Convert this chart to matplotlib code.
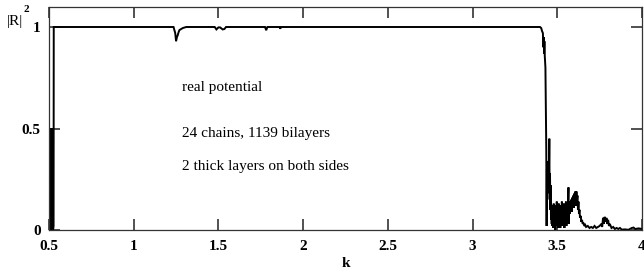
import matplotlib
matplotlib.use("Agg")
import matplotlib.pyplot as plt
import numpy as np

# ---- data ----
k_left = [0.500, 0.504, 0.508, 0.512, 0.516, 0.520, 0.524, 0.527, 0.528, 0.535]
r_left = [0.0, 0.5, 0.0, 0.5, 0.0, 0.5, 0.0, 0.02, 1.0, 1.0]

k_flat = [1.235, 1.245, 1.250, 1.255, 1.260, 1.265, 1.270, 1.280, 1.290, 1.310,
          1.478, 1.488, 1.500, 1.510, 1.525, 1.535, 1.545,
          1.775, 1.782, 1.789, 1.860, 1.865, 1.870,
          3.398, 3.405, 3.410, 3.415, 3.418, 3.420, 3.422, 3.424, 3.426, 3.430, 3.435]
r_flat = [1.0, 0.97, 0.93, 0.95, 0.96, 0.975, 0.985, 0.99, 0.995, 1.0,
          1.0, 0.988, 0.998, 0.998, 0.988, 0.99, 1.0,
          1.0, 0.984, 1.0, 1.0, 0.992, 1.0,
          1.0, 0.995, 0.98, 0.97, 0.90, 0.95, 0.87, 0.93, 0.86, 0.80, 0.40]

k_noise = [3.437, 3.439, 3.441, 3.443, 3.445, 3.447, 3.449, 3.451, 3.453, 3.455,
           3.457, 3.459, 3.461, 3.463, 3.465, 3.467, 3.469, 3.471,
           3.473, 3.476, 3.479, 3.482, 3.485, 3.488, 3.491, 3.494, 3.497, 3.500,
           3.503, 3.506, 3.509, 3.512, 3.515, 3.518, 3.521, 3.524, 3.527, 3.530,
           3.533, 3.536, 3.539, 3.542, 3.545, 3.548, 3.551, 3.554, 3.557, 3.560,
           3.563, 3.566, 3.568,
           3.571, 3.574, 3.577, 3.580, 3.583, 3.586, 3.589, 3.592, 3.595, 3.598,
           3.601, 3.604, 3.607, 3.610, 3.613, 3.616, 3.619, 3.622, 3.625, 3.628,
           3.631, 3.634, 3.638, 3.642, 3.646, 3.650, 3.655, 3.660, 3.665, 3.670,
           3.680, 3.690, 3.700, 3.710, 3.720, 3.730, 3.740, 3.750, 3.760, 3.765,
           3.770, 3.775, 3.780, 3.785, 3.790, 3.795, 3.800, 3.805, 3.810, 3.820,
           3.830, 3.840, 3.850, 3.860, 3.870, 3.880, 3.900, 3.920, 3.940, 3.950,
           3.960, 3.980, 4.000]
r_noise = [0.02, 0.30, 0.18, 0.34, 0.22, 0.33, 0.20, 0.30, 0.45, 0.15,
           0.28, 0.10, 0.22, 0.05, 0.12, 0.03, 0.10, 0.02,
           0.12, 0.01, 0.13, 0.03, 0.11, 0.00, 0.12, 0.04, 0.14, 0.02,
           0.12, 0.01, 0.13, 0.05, 0.11, 0.01, 0.12, 0.03, 0.14, 0.02,
           0.10, 0.04, 0.13, 0.01, 0.12, 0.06, 0.14, 0.02, 0.11, 0.05,
           0.13, 0.21, 0.03,
           0.12, 0.08, 0.14, 0.10, 0.15, 0.09, 0.16, 0.12, 0.17, 0.11,
           0.18, 0.13, 0.19, 0.12, 0.19, 0.14, 0.17, 0.10, 0.14, 0.08,
           0.10, 0.06, 0.07, 0.04, 0.05, 0.03, 0.035, 0.02, 0.025, 0.015,
           0.02, 0.01, 0.015, 0.01, 0.02, 0.01, 0.015, 0.02, 0.03, 0.015,
           0.06, 0.03, 0.065, 0.04, 0.06, 0.03, 0.05, 0.02, 0.03, 0.01,
           0.015, 0.005, 0.01, 0.005, 0.01, 0.002, 0.003, 0.001, 0.01, 0.012,
           0.005, 0.008, 0.005]

k = np.array(k_left + k_flat + k_noise)
r = np.array(r_left + r_flat + r_noise)

xticks = [0.5, 1, 1.5, 2, 2.5, 3, 3.5, 4]
xtick_labels = ["0.5", "1", "1.5", "2", "2.5", "3", "3.5", "4"]
yticks = [0, 0.5, 1]
ytick_labels = ["0", "0.5", "1"]
notes = ["real potential", "24 chains, 1139 bilayers", "2 thick layers on both sides"]

# ---- figure ----
fig = plt.figure(figsize=(6.44, 2.80), dpi=100)
ax = fig.add_axes([49 / 644, 1 - 230 / 280, (642 - 49) / 644, (230 - 6.7) / 280])

ax.plot(k, r, color="black", lw=1.4, solid_joinstyle="miter")
ax.set_xlim(0.5, 4.0)
ax.set_ylim(0, 1.1)

serif = ["Liberation Serif", "DejaVu Serif"]
ax.set_xticks(xticks)
ax.set_xticklabels(xtick_labels, family=serif, fontweight="bold", fontsize=11)
ax.set_yticks(yticks)
ax.set_yticklabels(ytick_labels, family=serif, fontweight="bold", fontsize=11)
ax.tick_params(axis="both", direction="in", length=8, width=1.1, color="#222222",
               top=True, right=True)
ax.tick_params(axis="x", pad=7)
ax.tick_params(axis="y", pad=6)
for s in ax.spines.values():
    s.set_linewidth(0.9)
    s.set_color("#333333")

for txt, yv in zip(notes, [0.70, 0.477, 0.312]):
    ax.text(1.285, yv, txt, family=serif, fontsize=11, va="center", ha="left")

ax.set_xlabel("k", family=serif, fontweight="bold", fontsize=11, labelpad=3)

fig.text(7 / 644, 1 - 21 / 280, "|R|", family=serif, fontsize=11, va="center", ha="left")
fig.text(24 / 644, 1 - 10 / 280, "2", family=serif, fontsize=8, fontweight="bold",
         va="center", ha="left")

fig.savefig("out.png", dpi=100)
